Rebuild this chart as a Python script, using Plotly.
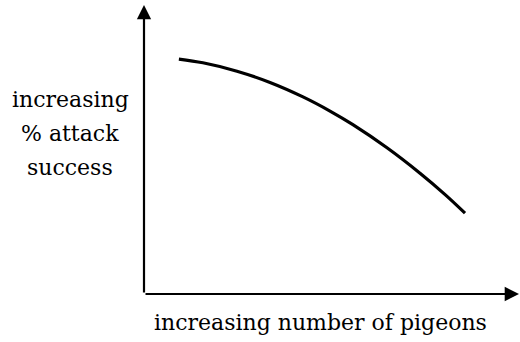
import plotly.graph_objects as go

# curve values, axis range 0..10
pigeons = [0.93, 1.57, 2.48, 3.36, 4.24, 4.96, 5.57, 6.48, 7.36, 8.03, 8.56]
success = [8.13, 8.00, 7.71, 7.32, 6.82, 6.33, 5.86, 5.06, 4.18, 3.44, 2.80]

x_label = "increasing number of pigeons"
y_label_lines = ["increasing", "% attack", "success"]

FONT = dict(family="DejaVu Serif", size=22, color="black")

fig = go.Figure()
fig.add_trace(go.Scatter(x=pigeons, y=success, mode="lines",
                         line=dict(color="black", width=3.2, shape="spline"),
                         hoverinfo="skip", showlegend=False))

annotations = [
    # y axis arrow
    dict(x=0, y=10, ax=0, ay=0, xref="x", yref="y", axref="x", ayref="y",
         showarrow=True, arrowhead=2, arrowsize=1.3, arrowwidth=2.2,
         arrowcolor="black", text=""),
    # x axis arrow
    dict(x=10, y=0, ax=0, ay=0, xref="x", yref="y", axref="x", ayref="y",
         showarrow=True, arrowhead=2, arrowsize=1.3, arrowwidth=2.2,
         arrowcolor="black", text=""),
    dict(x=0.47, y=-0.1, xref="paper", yref="paper", text=x_label,
         showarrow=False, font=FONT, xanchor="center", yanchor="middle"),
]
for i, t in enumerate(y_label_lines):
    annotations.append(dict(x=-0.197, y=0.672 - i * 0.117, xref="paper", yref="paper",
                            text=t, showarrow=False, font=FONT,
                            xanchor="center", yanchor="middle"))

fig.update_layout(
    width=520, height=342,
    margin=dict(l=144, r=1, t=5, b=48),
    paper_bgcolor="white", plot_bgcolor="white",
    xaxis=dict(range=[0, 10], visible=False, fixedrange=True),
    yaxis=dict(range=[0, 10], visible=False, fixedrange=True),
    annotations=annotations,
)
fig.write_html("out.html", config={"displayModeBar": False},
               post_script="document.body.style.margin='0';document.body.style.overflow='hidden';")
